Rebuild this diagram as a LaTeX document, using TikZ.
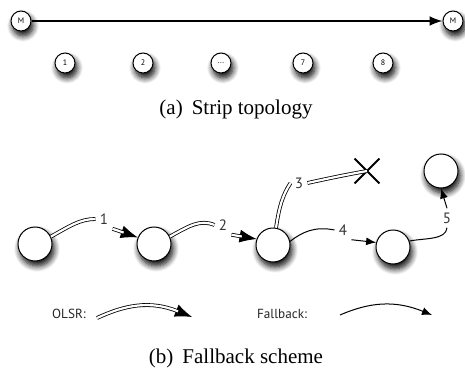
\documentclass[tikz,border=0pt]{standalone}
\usepackage{fontspec}
\setmainfont{Liberation Serif}
\newfontfamily\labelfont{PT Sans}
\usetikzlibrary{arrows.meta,shadows.blur,shapes.misc}

\begin{document}
\begin{tikzpicture}[x=0.5pt,y=-0.5pt,
  host/.style={circle,draw=black,line width=0.5pt,fill=white,inner sep=0pt,
    blur shadow={shadow xshift=1pt,shadow yshift=-2.4pt,
                 shadow blur radius=3pt,shadow blur steps=8,shadow opacity=100}},
  smallhost/.style={host,minimum size=10pt,
    font=\labelfont\fontsize{4}{4}\selectfont},
  bighost/.style={host,minimum size=17pt},
  olsr/.style={draw=black,line width=0.4pt,double=white,double distance=1.1pt},
  olsrtip/.style={draw=black,line width=0.4pt,-{Latex[length=8.5pt,width=6.5pt]}},
  olsrbody/.style={olsr,shorten >=7.5pt},
  fallback/.style={draw=black,line width=0.5pt},
  fbtip/.style={-{Latex[length=5pt,width=4pt]}},
  hoplabel/.style={font=\labelfont\fontsize{7.5}{8}\selectfont,
    text=black!80,inner sep=2pt},
  legend/.style={font=\labelfont\fontsize{6.6}{7}\selectfont,text=black!85},
  caption/.style={font=\fontsize{10.5}{12}\selectfont},
]
\useasboundingbox (0,0) rectangle (465,374);

% ---------- (a) strip topology ----------
\node[smallhost] (m1) at (21,21) {M};
\node[smallhost] (m2) at (453,21) {M};
\node[smallhost] (s1) at (65,63) {1};
\node[smallhost] (s2) at (143,63) {2};
\node[smallhost] (s3) at (221,63) {...};
\node[smallhost] (s4) at (303,63) {7};
\node[smallhost] (s5) at (383,63) {8};
\draw[line width=1pt,-{Latex[length=6.5pt,width=5pt]}] (m1) -- (m2);

\node[caption] (capa) at (236,109) {(a)\hspace{4.5pt}Strip topology};

% ---------- (b) fallback scheme ----------
\node[bighost] (A) at (35,244) {};
\node[bighost] (B) at (154,244) {};
\node[bighost] (C) at (273,245) {};
\node[bighost] (D) at (393,247) {};
\node[bighost] (E) at (441,171) {};
\node[cross out,draw=black,line width=0.9pt,minimum size=11.5pt,inner sep=0pt] (X) at (367,171) {};

\node[hoplabel] (h1) at (104,219) {1};
\node[hoplabel] (h2) at (223,225) {2};
\node[hoplabel] (h3) at (299,183) {3};
\node[hoplabel] (h4) at (343,230) {4};
\node[hoplabel] (h5) at (447,218) {5};

% hop 1 (OLSR)
\draw[olsr] (A.25) .. controls (70,226) and (80,219) .. (h1.west);
\draw[olsrtip] (h1.south east) -- (B.158);
\draw[olsrbody] (h1.south east) -- (B.158);
% hop 2 (OLSR)
\draw[olsr] (B.25) .. controls (189,226) and (200,219) .. (h2.west);
\draw[olsrtip] (h2.south east) -- (C.160);
\draw[olsrbody] (h2.south east) -- (C.160);
% hop 3 (OLSR, broken)
\draw[olsr] (C.80) .. controls (279,208) and (282,196) .. (h3.west);
\draw[olsr] (h3.east) .. controls (330,178) and (350,174) .. (X.center);
% hop 4 (fallback)
\draw[fallback] (C.12) .. controls (302,232) and (315,226) .. (h4.west);
\draw[fallback,fbtip] (h4.south east) -- (D.165);
% hop 5 (fallback)
\draw[fallback] (D.20) .. controls (425,238) and (446,240) .. (h5.south);
\draw[fallback,fbtip] (h5.north) -- (E.south);

% legend
\node[legend] (lo) at (69,314) {OLSR:};
\node[legend] (lf) at (282,314) {Fallback:};
\coordinate (lo1) at (97,318);
\coordinate (lo2) at (192,317);
\coordinate (lf1) at (340,315);
\coordinate (lf2) at (432,315);
\draw[olsrtip] (lo1) .. controls (125,305) and (150,300) .. (lo2);
\draw[olsrbody] (lo1) .. controls (125,305) and (150,300) .. (lo2);
\draw[fallback,fbtip] (lf1) .. controls (370,302) and (395,300) .. (lf2);

\node[caption] (capb) at (236,358) {(b)\hspace{4.5pt}Fallback scheme};
\end{tikzpicture}
\end{document}
